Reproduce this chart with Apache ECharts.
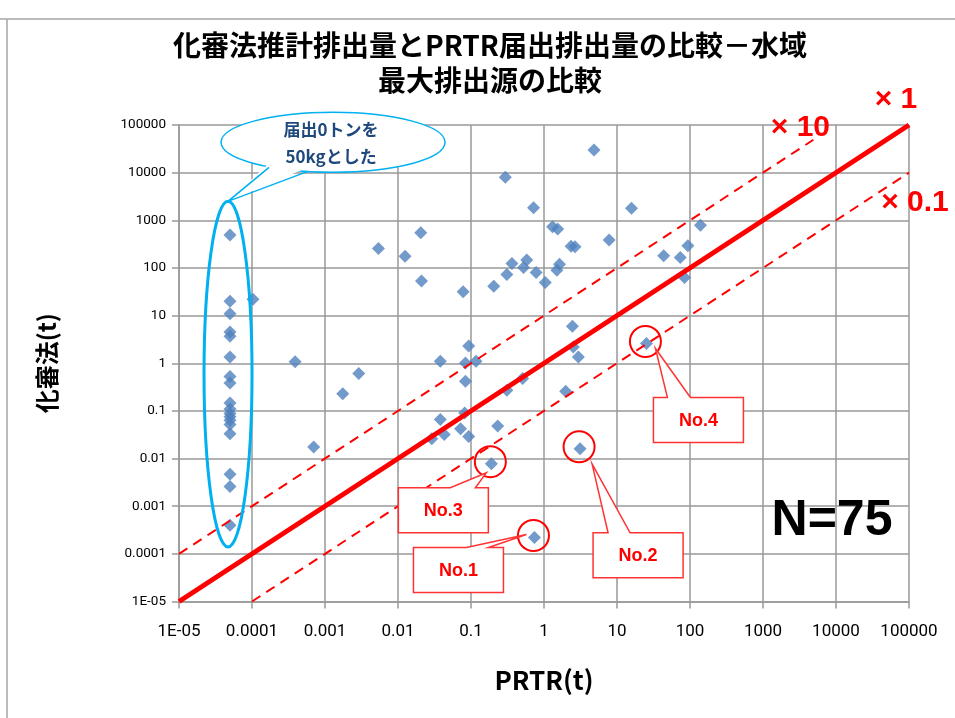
<!DOCTYPE html>
<html><head><meta charset="utf-8">
<script src="https://cdn.jsdelivr.net/npm/echarts@6/dist/echarts.min.js"></script>
<style>html,body{margin:0;padding:0;background:#fff}#c{width:955px;height:718px}</style>
</head><body><div id="c"></div>
<script>
// ---- data ----
const titleLines = ['化審法推計排出量とPRTR届出排出量の比較－水域', '最大排出源の比較'];
const xAxisName = 'PRTR(t)';
const yAxisName = '化審法(t)';
const tickLabels = ['1E-05','0.0001','0.001','0.01','0.1','1','10','100','1000','10000','100000'];

// PRTR reported 0 t, plotted as 50 kg (0.00005 t)
const zeroX = 0.00005;
const zeroColumnY = [489, 20, 11, 4.5, 3.7, 1.36, 0.53, 0.385, 0.147, 0.11, 0.088, 0.075, 0.064, 0.052, 0.033, 0.0047, 0.0026, 0.0004];

const prtrX = [0.000103, 0.00039, 0.0007, 0.00175, 0.0029, 0.0054, 0.0125, 0.0205, 0.021, 0.078,
  0.205, 0.295, 0.72, 4.84, 15.8, 1.31, 1.54, 7.8, 2.35, 2.66,
  0.364, 0.58, 0.525, 0.31, 0.78, 1.04, 1.63, 1.5, 2.45, 0.093,
  0.038, 0.084, 0.117, 0.084, 0.31, 0.51, 1.98, 2.52, 2.96, 25.3,
  0.038, 0.082, 0.029, 0.043, 0.072, 0.093, 0.232, 0.19, 3.12, 0.74,
  139, 93.5, 43.6, 73.5, 84];
const kashinY = [22, 1.07, 0.0175, 0.23, 0.61, 257, 177, 547, 53, 31.5,
  41.5, 7960, 1830, 29800, 1780, 731, 653, 384, 287, 278,
  124, 146, 102, 73, 80, 49.6, 119, 90, 6.0, 2.3,
  1.1, 1.01, 1.1, 0.42, 0.27, 0.48, 0.26, 2.2, 1.36, 2.6,
  0.066, 0.09, 0.026, 0.032, 0.042, 0.029, 0.048, 0.0078, 0.016, 0.00022,
  792, 291, 180, 166, 63];

const nCount = 75;
// reference lines: ratio, x start, x end
const ratioLines = [
  {ratio: 1,   label: '× 1',   x0: 1e-5, x1: 1e5},
  {ratio: 10,  label: '× 10',  x0: 1e-5, x1: 4900},
  {ratio: 0.1, label: '× 0.1', x0: 1e-4, x1: 1e5}
];
// highlighted sources
const callouts = [
  {label: 'No.1', x: 0.74, y: 0.00022},
  {label: 'No.2', x: 3.12, y: 0.016},
  {label: 'No.3', x: 0.19, y: 0.0078},
  {label: 'No.4', x: 25.3, y: 2.6}
];
const bubbleLines = ['届出0トンを', '50kgとした'];

// ---- layout / style (pixels) ----
const calloutLayout = {
  'No.1': {bx: -121, by: 10, b1: 53, b2: 75, tx: -8, ty: -3},
  'No.2': {bx: 13, by: 84, b1: 15, b2: 37, tx: 12, ty: 15},
  'No.3': {bx: -93, by: 24, b1: 52, b2: 77, tx: -5, ty: 9},
  'No.4': {bx: 7, by: 54, b1: 14, b2: 37, tx: 9, ty: 5}
};
const lineLabelOffset = {'× 1': [-13, -25], '× 10': [-13, -12], '× 0.1': [6, 30]};
const RED = '#FF0000', BLUE = '#4F81BD', CYAN = '#00B0F0', GRID = '#999999';

const points = zeroColumnY.map(v => [zeroX, v]).concat(prtrX.map((x, i) => [x, kashinY[i]]));

const labelFor = v => tickLabels[Math.round(Math.log10(v)) + 5];

const chart = echarts.init(document.getElementById('c'), null, {renderer: 'canvas'});

const lineSeries = ratioLines.map(l => ({
  type: 'line',
  data: [[l.x0, l.x0 * l.ratio], [l.x1, l.x1 * l.ratio]],
  showSymbol: false,
  silent: true,
  z: 5,
  lineStyle: {color: RED, width: l.ratio === 1 ? 5 : 2, type: l.ratio === 1 ? 'solid' : [10, 7]}
}));

chart.setOption({
  animation: false,
  backgroundColor: '#fff',
  title: {
    text: titleLines.join('\n'),
    left: 485, top: 23, textAlign: 'center',
    textStyle: {fontFamily: 'Noto Sans CJK JP', fontWeight: 'bold', fontSize: 28, lineHeight: 35, color: '#000'}
  },
  grid: {left: 179, right: 46, top: 125, bottom: 116.5, containLabel: false},
  xAxis: {
    type: 'log', logBase: 10, min: 1e-5, max: 1e5, interval: 1, splitNumber: 10,
    name: xAxisName, nameLocation: 'middle', nameGap: 66,
    nameTextStyle: {fontFamily: 'Noto Sans CJK JP', fontWeight: 'bold', fontSize: 26, color: '#000'},
    axisLine: {lineStyle: {color: GRID, width: 1.5}},
    axisTick: {show: true, length: 7, lineStyle: {color: GRID, width: 1.5}},
    axisLabel: {formatter: labelFor, margin: 22, fontFamily: 'Roboto', fontSize: 17, color: '#000', hideOverlap: false, interval: 0},
    splitLine: {show: true, lineStyle: {color: GRID, width: 1.5}},
    minorTick: {show: false}
  },
  yAxis: {
    type: 'log', logBase: 10, min: 1e-5, max: 1e5, interval: 1, splitNumber: 10,
    name: yAxisName, nameLocation: 'middle', nameGap: 120, nameRotate: 90,
    nameTextStyle: {fontFamily: 'Noto Sans CJK JP', fontWeight: 'bold', fontSize: 24, color: '#000'},
    axisLine: {show: true, lineStyle: {color: GRID, width: 1.5}},
    axisTick: {show: true, length: 7, lineStyle: {color: GRID, width: 1.5}},
    axisLabel: {formatter: labelFor, margin: 13, fontFamily: 'Roboto', fontSize: 13.5, color: '#000', interval: 0},
    splitLine: {show: true, lineStyle: {color: GRID, width: 1.5}}
  },
  series: [{
    type: 'scatter', data: points, symbol: 'diamond', symbolSize: 13, z: 3,
    itemStyle: {color: BLUE}
  }].concat(lineSeries)
});

// ---- annotations anchored to data coordinates ----
const px = (x, y) => chart.convertToPixel({xAxisIndex: 0, yAxisIndex: 0}, [x, y]);
const g = [];

// outer chart-area border
g.push({type: 'polyline', shape: {points: [[0, 19], [955, 19]]}, style: {stroke: '#a6a6a6', lineWidth: 1.5, fill: null}, z: 1});
g.push({type: 'polyline', shape: {points: [[7, 19], [7, 718]]}, style: {stroke: '#a6a6a6', lineWidth: 1.5, fill: null}, z: 1});

// tall ellipse round the zero column
const eTop = px(zeroX, 2500), eBot = px(zeroX, 1.4e-4);
const ecx = eTop[0] - 2, ecy = (eTop[1] + eBot[1]) / 2, ery = (eBot[1] - eTop[1]) / 2;
g.push({type: 'ellipse', shape: {cx: ecx, cy: ecy, rx: 24, ry: ery}, style: {stroke: CYAN, lineWidth: 3, fill: null}, z: 20});

// speech bubble
const tip = [ecx, eTop[1]];
const bcx = tip[0] + 105, bcy = tip[1] - 59;
g.push({type: 'ellipse', shape: {cx: bcx, cy: bcy, rx: 112, ry: 30}, style: {stroke: CYAN, lineWidth: 1.5, fill: '#fff'}, z: 20});
const tb1 = [tip[0] + 41, tip[1] - 34], tb2 = [tip[0] + 80, tip[1] - 30];
g.push({type: 'polygon', shape: {points: [[tb1[0], tb1[1] - 4], tip, [tb2[0], tb2[1] - 4]]}, style: {fill: '#fff', stroke: null}, z: 21});
g.push({type: 'polyline', shape: {points: [tb1, tip, tb2]}, style: {stroke: CYAN, lineWidth: 1.5, fill: null}, z: 22});
g.push({type: 'text', x: bcx - 2, y: bcy + 1, z: 23, style: {
  text: bubbleLines.join('\n'), fill: '#1F497D', fontFamily: 'Noto Sans CJK JP', fontWeight: 'bold',
  fontSize: 17, lineHeight: 27, align: 'center', verticalAlign: 'middle'}});

// ratio-line labels
ratioLines.forEach(l => {
  const p = px(l.x1, l.x1 * l.ratio), o = lineLabelOffset[l.label];
  g.push({type: 'text', x: p[0] + o[0], y: p[1] + o[1], z: 25, style: {
    text: l.label, fill: RED, fontFamily: 'Liberation Sans', fontWeight: 'bold', fontSize: 30,
    align: 'center', verticalAlign: 'middle'}});
});

// callouts
callouts.forEach(c => {
  const p = px(c.x, c.y), L = calloutLayout[c.label];
  const bx = p[0] + L.bx, by = p[1] + L.by, bw = 90, bh = 45;
  g.push({type: 'circle', shape: {cx: p[0] - 1, cy: p[1] - 2, r: 15.5}, style: {stroke: RED, lineWidth: 2, fill: null}, z: 30});
  g.push({type: 'polygon', shape: {points: [
    [bx, by], [bx + L.b1, by], [p[0] + L.tx, p[1] + L.ty], [bx + L.b2, by],
    [bx + bw, by], [bx + bw, by + bh], [bx, by + bh]]},
    style: {stroke: '#FF3333', lineWidth: 1.5, fill: '#fff'}, z: 30});
  g.push({type: 'text', x: bx + bw / 2, y: by + bh / 2 + 1, z: 31, style: {
    text: c.label, fill: RED, fontFamily: 'Liberation Sans', fontWeight: 'bold', fontSize: 18,
    align: 'center', verticalAlign: 'middle'}});
});

// N label
g.push({type: 'text', x: 832, y: 521, z: 25, style: {
  text: 'N=' + nCount, fill: '#000', fontFamily: 'Liberation Sans', fontWeight: 'bold', fontSize: 50,
  align: 'center', verticalAlign: 'middle'}});

chart.setOption({graphic: {elements: g}});
</script>
</body></html>
